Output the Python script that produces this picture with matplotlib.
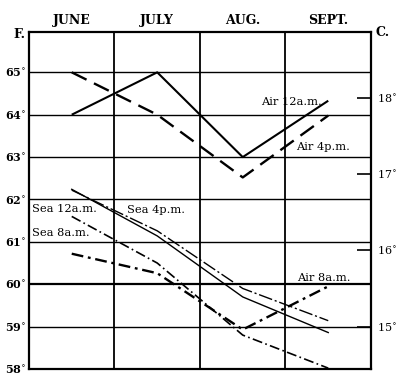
import matplotlib
matplotlib.use("Agg")
import matplotlib.pyplot as plt

months = ["JUNE", "JULY", "AUG.", "SEPT."]
f_ticks = [58, 59, 60, 61, 62, 63, 64, 65]
c_ticks = [15, 16, 17, 18]

air_12am = [64.0, 65.0, 63.0, 64.33]
air_4pm = [65.0, 64.0, 62.52, 63.98]
air_8am = [60.72, 60.26, 58.93, 59.95]
sea_12am = [62.24, 61.14, 59.7, 58.86]
sea_4pm = [62.22, 61.26, 59.9, 59.14]
sea_8am = [61.6, 60.5, 58.8, 58.02]

FONT = "DejaVu Serif"
fig = plt.figure(figsize=(3.97, 3.79), dpi=100)
ax = fig.add_axes([0.073, 0.0264, 0.8615, 0.889])
ymin, ymax = 58, 65.95
ax.set_xlim(0, 4)
ax.set_ylim(ymin, ymax)

xs = [i + 0.5 for i in range(len(months))]

# grid
for v in f_ticks[1:]:
    ax.axhline(v, color="black", lw=1.6 if v == 60 else 1.0, zorder=1)
for i in range(1, 4):
    ax.axvline(i, color="black", lw=1.3, zorder=1)
for s in ax.spines.values():
    s.set_linewidth(1.6)

ax.plot(xs, air_12am, color="black", lw=1.5, solid_capstyle="butt")
ax.plot(xs, air_4pm, color="black", lw=1.7, dashes=(7, 3.5))
ax.plot(xs, air_8am, color="black", lw=1.7, dashes=(5, 2, 1.2, 2))
ax.plot(xs, sea_12am, color="black", lw=1.0)
ax.plot(xs, sea_4pm, color="black", lw=1.0, dashes=(10, 2, 1.5, 2))
ax.plot(xs, sea_8am, color="black", lw=1.2, dashes=(6, 2, 1, 2))

# line labels
lab = dict(fontsize=8.2, family=FONT, va="center", ha="left")
ax.text(2.71, 64.3, "Air 12a.m.", **lab)
ax.text(3.12, 63.23, "Air 4p.m.", **lab)
ax.text(3.13, 60.14, "Air 8a.m.", **lab)
ax.text(0.04, 61.78, "Sea 12a.m.", **lab)
ax.text(1.15, 61.74, "Sea 4p.m.", **lab)
ax.text(0.04, 61.22, "Sea 8a.m.", **lab)

# left axis
ax.set_xticks([])
ax.set_yticks(f_ticks)
ax.set_yticklabels([f"{v}$^{{\\circ}}$" for v in f_ticks], fontsize=8, family=FONT, fontweight="bold")
ax.tick_params(axis="y", length=0, pad=2)

# right axis (Celsius)
ax2 = ax.twinx()
ax2.set_ylim((ymin - 32) * 5 / 9, (ymax - 32) * 5 / 9)
ax2.set_yticks(c_ticks)
ax2.set_yticklabels([f"{v}$^{{\\circ}}$" for v in c_ticks], fontsize=8, family=FONT)
ax2.tick_params(axis="y", direction="in", length=10, width=1.2, pad=4)
for s in ax2.spines.values():
    s.set_visible(False)

# month headers
for x, m in zip(xs, months):
    ax.text(x, 1.015, m, transform=ax.get_xaxis_transform(), ha="center", va="bottom",
            fontsize=9, family=FONT, fontweight="bold")
fig.text(13 / 397, 1 - 35 / 379, "F.", fontsize=9, family=FONT, fontweight="bold", va="center")
fig.text(376 / 397, 1 - 33 / 379, "C.", fontsize=9, family=FONT, fontweight="bold", va="center")

fig.savefig("out.png", dpi=100)
